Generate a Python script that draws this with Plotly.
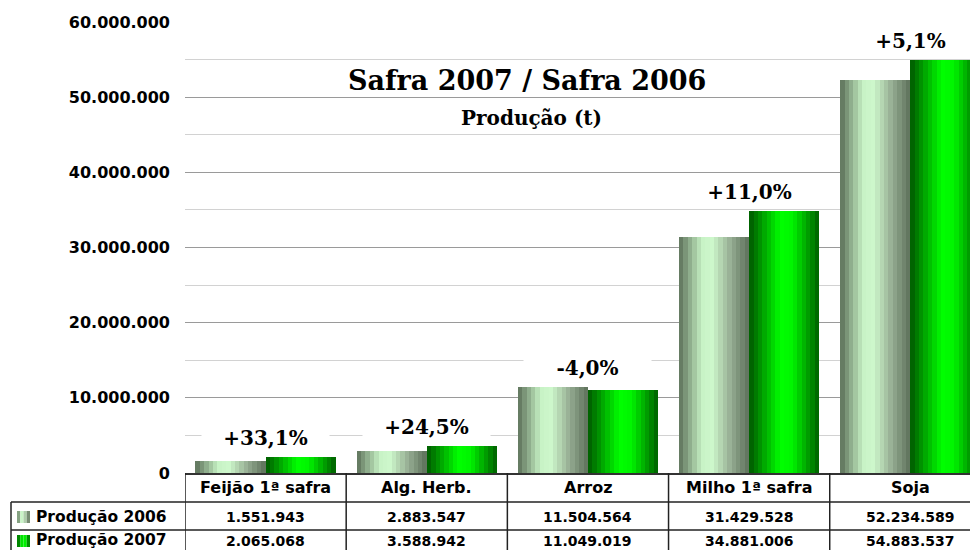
import numpy as np
import plotly.graph_objects as go

categories = ["Feijão 1ª safra", "Alg. Herb.", "Arroz", "Milho 1ª safra", "Soja"]
series_names = ["Produção 2006", "Produção 2007"]
prod_2006 = [1551943, 2883547, 11504564, 31429528, 52234589]
prod_2007 = [2065068, 3588942, 11049019, 34881006, 54883537]

title_main = "Safra 2007 / Safra 2006"
title_sub = "Produção (t)"

# ---- style ----
OFF = 8  # page body margin
W, H = 978 - OFF, 550 - OFF
ML, MR, MT, MB = 185 - OFF, 0, 22 - OFF, 77
PW, PH = W - ML - MR, H - MT - MB
SANS = "DejaVu Sans"
SERIF = "DejaVu Serif"

grad_2006 = [(0.0, "#5c7059"), (0.33, "#c8f3c6"), (0.48, "#cdf7cb"), (0.75, "#93a990"), (1.0, "#5c7059")]
grad_2007 = [(0.0, "#005800"), (0.3, "#00c800"), (0.45, "#00ff00"), (0.62, "#00f400"), (0.85, "#009a00"), (1.0, "#005e00")]


def hex2rgb(h):
    h = h.lstrip("#")
    return np.array([int(h[i:i + 2], 16) for i in (0, 2, 4)], dtype=float)


def grad_color(stops, t):
    for (t0, c0), (t1, c1) in zip(stops[:-1], stops[1:]):
        if t0 <= t <= t1:
            f = (t - t0) / (t1 - t0) if t1 > t0 else 0
            c = hex2rgb(c0) * (1 - f) + hex2rgb(c1) * f
            return "rgb(%d,%d,%d)" % tuple(np.round(c))
    return stops[-1][1]


def px2px(px):  # page pixel x -> paper x
    return (px - OFF - ML) / PW


def py2py(py):  # page pixel y -> paper y
    return (MT + PH - (py - OFF)) / PH


fig = go.Figure()

N = 16
half = 0.435
sw = half / N
for s_idx, (vals, grad) in enumerate([(prod_2006, grad_2006), (prod_2007, grad_2007)]):
    start = -half if s_idx == 0 else 0.0
    for i in range(N):
        t = (i + 0.5) / N
        fig.add_trace(go.Bar(
            x=categories, y=vals, offset=start + i * sw, width=sw * 1.02,
            marker=dict(color=grad_color(grad, t), line=dict(width=0)),
            showlegend=False, name=series_names[s_idx], hoverinfo="skip",
        ))

# percentage labels
annotations = []
for i, c in enumerate(categories):
    pct = (prod_2007[i] / prod_2006[i] - 1) * 100
    txt = ("%+.1f%%" % pct).replace(".", ",")
    annotations.append(dict(
        x=c, y=max(prod_2006[i], prod_2007[i]), xref="x", yref="y",
        text="<b>%s</b>" % txt, showarrow=False, xanchor="center", yanchor="middle", yshift=19,
        font=dict(family=SERIF, size=20, color="black"),
        bgcolor="white", width=125, height=28,
    ))

# titles
annotations.append(dict(x=px2px(527), y=py2py(80), xref="paper", yref="paper",
                        text="<b>%s</b>" % title_main, showarrow=False,
                        xanchor="center", yanchor="middle",
                        font=dict(family=SERIF, size=27, color="black")))
annotations.append(dict(x=px2px(531), y=py2py(118), xref="paper", yref="paper",
                        text="<b>%s</b>" % title_sub, showarrow=False,
                        xanchor="center", yanchor="middle",
                        font=dict(family=SERIF, size=20, color="black")))

# data table
text_mid = [487, 517, 541]
for i, c in enumerate(categories):
    annotations.append(dict(x=c, y=py2py(text_mid[0]), xref="x", yref="paper",
                            text="<b>%s</b>" % c, showarrow=False,
                            xanchor="center", yanchor="middle",
                            font=dict(family=SANS, size=16, color="black")))
    for r, vals in enumerate([prod_2006, prod_2007]):
        annotations.append(dict(x=c, y=py2py(text_mid[r + 1]), xref="x", yref="paper",
                                text="<b>%s</b>" % format(vals[i], ",d").replace(",", "."),
                                showarrow=False, xanchor="center", yanchor="middle",
                                font=dict(family=SANS, size=14, color="black")))
for r, nm in enumerate(series_names):
    annotations.append(dict(x=px2px(34), y=py2py(text_mid[r + 1] - (1.5 if r else 0)),
                            xref="paper", yref="paper",
                            text="<b>%s</b>" % nm, showarrow=False,
                            xanchor="left", yanchor="middle",
                            font=dict(family=SANS, size=15.5, color="black")))

shapes = []
LC = "#222222"
for yy in (502, 530):
    shapes.append(dict(type="line", xref="paper", yref="paper", x0=px2px(11), x1=1,
                       y0=py2py(yy), y1=py2py(yy), line=dict(color=LC, width=1.5)))
for k in range(len(categories) + 1):
    shapes.append(dict(type="line", xref="x", yref="paper", x0=k - 0.5, x1=k - 0.5,
                       y0=py2py(473), y1=py2py(560), line=dict(color=LC, width=1.5)))
shapes.append(dict(type="line", xref="paper", yref="paper", x0=px2px(11), x1=px2px(11),
                   y0=py2py(502), y1=py2py(560), line=dict(color=LC, width=1.5)))
# legend swatches
for r, grad in enumerate([grad_2006, grad_2007]):
    yc = text_mid[r + 1]
    for j in range(4):
        x0 = 17 + j * 3.25
        shapes.append(dict(type="rect", xref="paper", yref="paper",
                           x0=px2px(x0), x1=px2px(x0 + 3.25),
                           y0=py2py(yc + 6), y1=py2py(yc - 6),
                           fillcolor=grad_color(grad, (j + 0.5) / 4), line=dict(width=0)))

fig.update_layout(
    width=W, height=H,
    margin=dict(l=ML, r=MR, t=MT, b=MB),
    paper_bgcolor="white", plot_bgcolor="white",
    barmode="overlay", bargap=0,
    separators=",.",
    showlegend=False,
    annotations=annotations, shapes=shapes,
    xaxis=dict(type="category", range=[-0.5, 4.42], showticklabels=False,
               showgrid=False, showline=True, linecolor="#333333", linewidth=1.5,
               zeroline=False, fixedrange=True),
    yaxis=dict(range=[0, 60e6], dtick=10e6, tickformat=",d",
               showgrid=True, gridcolor="#9a9a9a", gridwidth=1,
               minor=dict(dtick=5e6, showgrid=True, gridcolor="#d2d2d2", gridwidth=1),
               zeroline=False, showline=False, ticks="",
               ticklabelstandoff=14,
               tickfont=dict(family=SANS, size=16, color="black", weight="bold"),
               fixedrange=True),
)

fig.write_html("out.html")
